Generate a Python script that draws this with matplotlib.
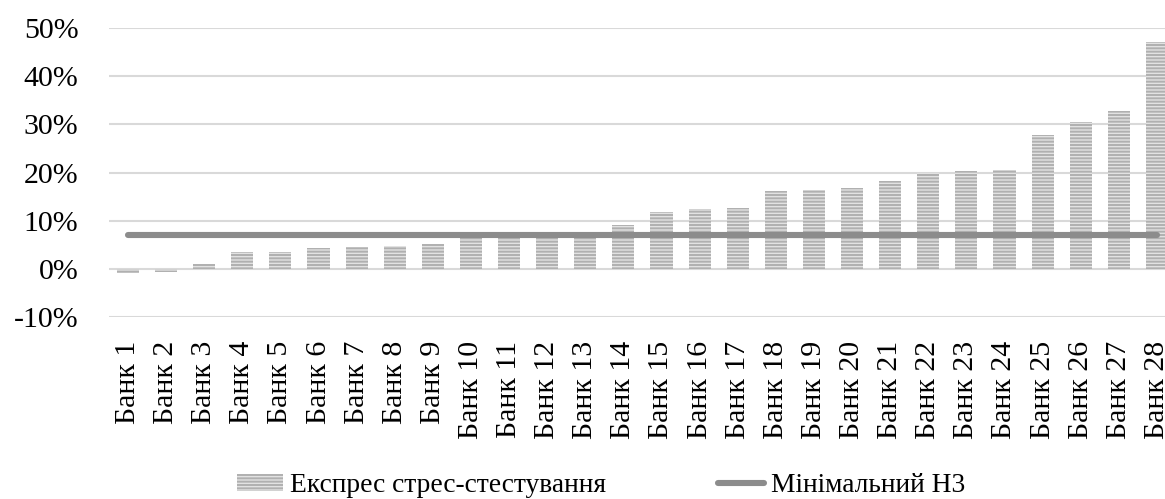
import matplotlib
matplotlib.use("Agg")
from matplotlib import pyplot as plt

plt.rcParams['font.family'] = ['Liberation Serif', 'DejaVu Serif']
plt.rcParams['hatch.linewidth'] = 1.4

# bank names and stress-test results (share, 0.1 = 10%)
banks = ['Банк %d' % i for i in range(1, 29)]
stress = [-0.009, -0.007, 0.011, 0.035, 0.035, 0.043, 0.045, 0.047, 0.052, 0.066,
          0.067, 0.068, 0.069, 0.090, 0.119, 0.124, 0.127, 0.161, 0.164, 0.167,
          0.183, 0.200, 0.203, 0.206, 0.278, 0.304, 0.327, 0.471]
min_n3 = [0.07] * 28

yticks = [-0.1, 0.0, 0.1, 0.2, 0.3, 0.4, 0.5]
ytick_labels = ['-10%', '0%', '10%', '20%', '30%', '40%', '50%']

fig = plt.figure(figsize=(11.65, 4.99), dpi=100)
ax = fig.add_axes([0.0935, 0.3647, 0.9159, 0.5792])

x = list(range(len(banks)))
bars = ax.bar(x, stress, width=0.58, color='#e2e2e2', edgecolor='#b0b0b0',
              hatch='-----', linewidth=0, label='Експрес стрес-стестування', zorder=2)
line, = ax.plot(x, min_n3, color='#8c8c8c', linewidth=4.4, solid_capstyle='round',
                label='Мінімальний Н3', zorder=3)

ax.set_xlim(-0.5, len(banks) - 0.5)
ax.set_ylim(-0.1, 0.5)
ax.set_yticks(yticks)
ax.set_yticklabels(ytick_labels)
ax.set_xticks(x)
ax.set_xticklabels(banks, rotation=90, va='top')
ax.tick_params(axis='both', length=0, labelsize=21.5)
ax.tick_params(axis='x', pad=17)
ax.tick_params(axis='y', pad=22)
ax.grid(axis='y', color='#d9d9d9', linewidth=1.5, zorder=0)
ax.set_axisbelow(True)
for s in ax.spines.values():
    s.set_visible(False)

fig.legend(handles=[bars, line], loc='center', bbox_to_anchor=(0.516, 1 - 486 / 499),
           ncol=2, frameon=False, fontsize=19.8, handlelength=1.65, handleheight=0.55,
           handletextpad=0.25, columnspacing=4.1)

fig.savefig('out.png', dpi=100)
